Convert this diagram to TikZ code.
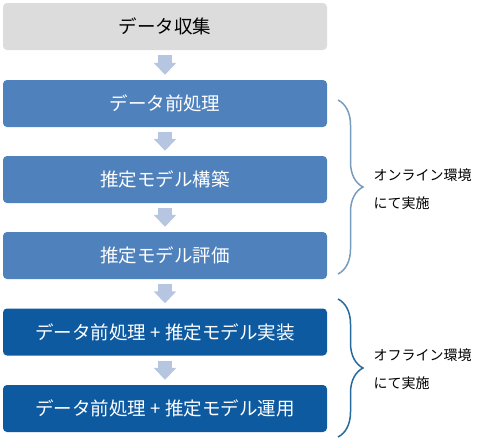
\documentclass[tikz,border=0pt]{standalone}
\usepackage{fontspec}
\setmainfont{Noto Sans CJK JP}
\usepackage{xcolor}
\usepackage{tikz}
\usetikzlibrary{arrows.meta,decorations.pathreplacing}

\definecolor{stagegray}{RGB}{220,220,220}
\definecolor{stageblue}{RGB}{79,129,189}
\definecolor{stagedark}{RGB}{14,90,160}
\definecolor{flowblue}{RGB}{182,198,224}
\definecolor{braceon}{RGB}{120,156,190}
\definecolor{braceoff}{RGB}{38,106,156}

\tikzset{
  stage/.style={rectangle, rounded corners=4pt, minimum width=324pt, minimum height=47pt, inner sep=0pt, font=\fontsize{18.5}{21}\selectfont},
  flow/.style={draw=flowblue, line width=14pt, -{Triangle[width=22pt,length=12pt]}, shorten <=5pt, shorten >=5pt},
  note/.style={anchor=west, align=left, font=\fontsize{14}{28}\selectfont}
}

\begin{document}
\begin{tikzpicture}[x=1pt,y=-1pt]
\useasboundingbox (0,0) rectangle (480,439);

\node[stage, fill=stagegray, text=black] (collect) at (165,26.5) {データ収集};
\node[stage, fill=stageblue, text=white] (prep) at (165,103.5) {データ前処理};
\node[stage, fill=stageblue, text=white] (build) at (165,179.5) {推定モデル構築};
\node[stage, fill=stageblue, text=white] (evaluate) at (165,255.5) {推定モデル評価};
\node[stage, fill=stagedark, text=white] (implement) at (165,332) {データ前処理 + 推定モデル実装};
\node[stage, fill=stagedark, text=white] (operate) at (165,408.5) {データ前処理 + 推定モデル運用};

\draw[flow] (collect) -- (prep);
\draw[flow] (prep) -- (build);
\draw[flow] (build) -- (evaluate);
\draw[flow] (evaluate) -- (implement);
\draw[flow] (implement) -- (operate);

\coordinate (onTop) at (338,100);
\coordinate (onBottom) at (338,274);
\coordinate (offTop) at (338,299);
\coordinate (offBottom) at (338,437);

\draw[braceon, line width=1.5pt, decorate, decoration={brace, amplitude=25pt}] (onTop) -- (onBottom);
\draw[braceoff, line width=1.5pt, decorate, decoration={brace, amplitude=25pt}] (offTop) -- (offBottom);

\node[note] (online) at (370,189) {オンライン環境\\にて実施};
\node[note] (offline) at (370,369) {オフライン環境\\にて実施};
\end{tikzpicture}
\end{document}
